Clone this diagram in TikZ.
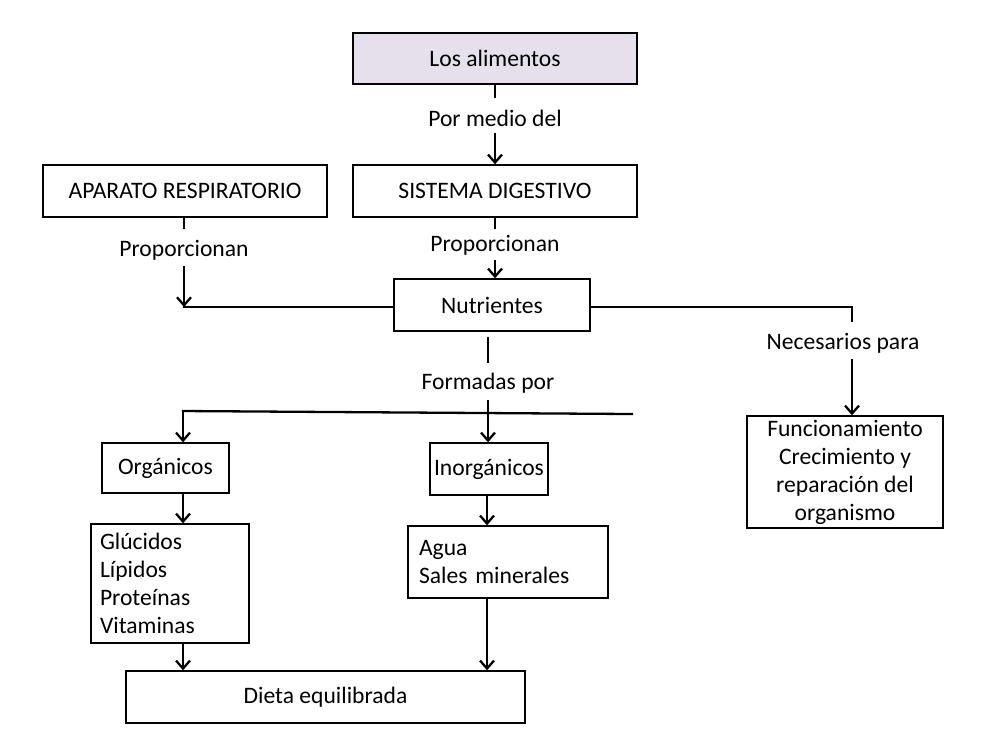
\documentclass[tikz,border=0pt]{standalone}
\usepackage{fontspec}
\setmainfont{Carlito}
\usetikzlibrary{arrows.meta}
\definecolor{lav}{RGB}{230,224,236}
\begin{document}
\begin{tikzpicture}[x=0.5pt,y=-0.5pt,
  txt/.style={font=\fontsize{11.8}{14}\selectfont, inner sep=0pt},
  box/.style={txt, draw=black, line width=0.7pt, align=center},
  lbl/.style={txt},
  conn/.style={line width=1.15pt, line cap=rect},
  arr/.style={line width=1.15pt, -{Straight Barb[length=4pt,width=7pt,line width=1.15pt]}}
]
\useasboundingbox (0,0) rectangle (1004,752);

% boxes
\node[box, fill=lav, minimum width=142pt, minimum height=25.5pt] (alim) at (495,58.5) {Los alimentos};
\node[box, minimum width=142pt, minimum height=26pt] (sist) at (495,191) {SISTEMA DIGESTIVO};
\node[box, minimum width=142pt, minimum height=26pt] (apar) at (185,191) {APARATO RESPIRATORIO};
\node[box, minimum width=98pt, minimum height=26pt] (nutr) at (492,305) {Nutrientes};
\node[box, minimum width=98pt, minimum height=56pt] (func) at (845,472) {Funcionamiento\\Crecimiento y\\reparación del\\organismo};
\node[box, minimum width=63.5pt, minimum height=25pt] (org) at (165.5,468) {Orgánicos};
\node[box, minimum width=59pt, minimum height=26pt] (inorg) at (489,469) {Inorgánicos};
\node[box, minimum width=79pt, minimum height=59.5pt, text width=70pt, align=left, inner xsep=4.5pt] (gluc) at (170,583.5) {Glúcidos\\Lípidos\\Proteínas\\Vitaminas};
\node[box, minimum width=100pt, minimum height=36pt, text width=89pt, align=left, inner xsep=5.5pt] (agua) at (508,562) {Agua\\Sales minerales};
\node[box, minimum width=199.5pt, minimum height=26pt] (dieta) at (325.5,697) {Dieta equilibrada};

% labels
\node[lbl] (l1) at (495,118) {Por medio del};
\node[lbl] (l2) at (184,250) {Proporcionan};
\node[lbl] (l3) at (495,245) {Proporcionan};
\node[lbl] (l4) at (488,383) {Formadas por};
\node[lbl] (l5) at (843,343) {Necesarios para};

% free ends
\coordinate (a1) at (495,97);
\coordinate (a2) at (495,133);
\coordinate (b1) at (184,228);
\coordinate (b2) at (184,266);
\coordinate (j1) at (184,307);
\coordinate (c1) at (495,228);
\coordinate (c2) at (495,260);
\coordinate (j2) at (852,307);
\coordinate (j3) at (852,321);
\coordinate (j4) at (852,359);
\coordinate (d1) at (488,338);
\coordinate (d2) at (488,362);
\coordinate (d3) at (488,400);
\coordinate (hL) at (183,411);
\coordinate (hR) at (632,414);
\coordinate (cL) at (183,0);
\coordinate (cR) at (487,0);

% connectors
\draw[conn] (alim.south) -- (a1);
\draw[arr] (a2) -- (sist.north);

\draw[conn] (apar.south -| b1) -- (b1);
\draw[arr] (b2) -- (j1);
\draw[conn] (j1) -- (j1 -| nutr.west);

\draw[conn] (sist.south) -- (c1);
\draw[arr] (c2) -- (c2 |- nutr.north);

\draw[conn] (j2 -| nutr.east) -- (j2) -- (j3);
\draw[arr] (j4) -- (j4 |- func.north);

\draw[conn] (d1) -- (d2);
\draw[arr] (d3) -- (d3 |- inorg.north);
\draw[conn] (hL) -- (hR);
\draw[arr] (hL) -- (hL |- org.north);

\draw[arr] (org.south -| cL) -- (gluc.north -| cL);
\draw[arr] (inorg.south -| cR) -- (agua.north -| cR);
\draw[arr] (gluc.south -| cL) -- (dieta.north -| cL);
\draw[arr] (agua.south -| cR) -- (dieta.north -| cR);
\end{tikzpicture}
\end{document}
